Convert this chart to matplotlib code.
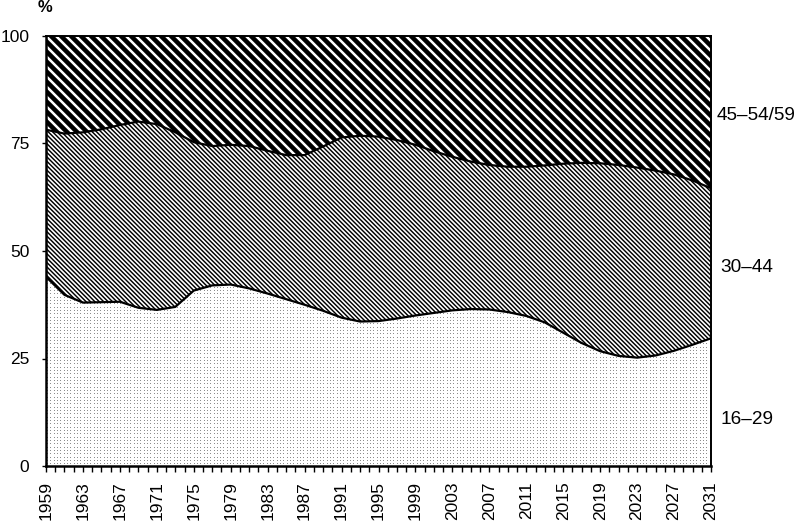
import matplotlib
matplotlib.use('Agg')
import matplotlib.pyplot as plt
import numpy as np
from matplotlib.collections import LineCollection
from matplotlib.transforms import IdentityTransform

# every second year
years = list(range(1959, 2032, 2))
share_16_29 = [44.0, 39.8, 38.0, 38.1, 38.2, 36.8, 36.3, 37.0, 40.8, 42.0,
               42.2, 41.3, 40.1, 38.8, 37.5, 36.1, 34.5, 33.6, 33.7, 34.3,
               35.0, 35.6, 36.2, 36.5, 36.4, 35.8, 34.9, 33.4, 31.0, 28.6,
               26.7, 25.6, 25.2, 25.7, 26.8, 28.2, 29.7]
share_30_44 = [34.2, 37.5, 39.6, 40.2, 41.1, 43.3, 43.2, 40.6, 34.5, 32.4,
               32.5, 33.1, 33.2, 33.5, 34.8, 38.2, 41.9, 43.2, 42.9, 41.5,
               39.7, 37.6, 35.7, 34.3, 33.6, 33.8, 34.7, 36.5, 39.3, 41.9,
               43.7, 44.4, 44.2, 43.0, 41.0, 38.2, 34.9]
share_45_plus = [21.8, 22.7, 22.4, 21.7, 20.7, 19.9, 20.5, 22.4, 24.7, 25.6,
                 25.3, 25.6, 26.7, 27.7, 27.7, 25.7, 23.6, 23.2, 23.4, 24.2,
                 25.3, 26.8, 28.1, 29.2, 30.0, 30.4, 30.4, 30.1, 29.7, 29.5,
                 29.6, 30.0, 30.6, 31.3, 32.2, 33.6, 35.4]
group_labels = ['16\u201329', '30\u201344', '45\u201354/59']
tick_years = list(range(1959, 2032, 4))

plt.rcParams['font.family'] = ['Liberation Sans', 'DejaVu Sans']

fig = plt.figure(figsize=(8, 5.21), dpi=100)
ax = fig.add_axes([46 / 800, 55 / 521, 665 / 800, 430 / 521])
ax.set_xlim(1959, 2031)
ax.set_ylim(0, 100)

x = np.array(years)
low = np.array(share_16_29)
mid = low + np.array(share_30_44)
top = mid + np.array(share_45_plus)

band_low = ax.fill_between(x, 0, low, facecolor='white', linewidth=0, zorder=1)
band_mid = ax.fill_between(x, low, mid, facecolor='white', linewidth=0, zorder=1)
band_top = ax.fill_between(x, mid, top, facecolor='black', linewidth=0, zorder=1)

# pattern fills, drawn in pixel space and clipped to each band
bx0, by0, bx1, by1 = 46, 55, 711, 485


def stripes(band, period, width, color):
    cs = np.arange(bx0 + by0 - 20, bx1 + by1 + 20, period)
    segs = [[(c - by1 - 5, by1 + 5), (c - by0 + 5, by0 - 5)] for c in cs]
    lc = LineCollection(segs, colors=color, linewidths=width,
                        transform=IdentityTransform(), zorder=1.5)
    ax.add_collection(lc, autolim=False)
    lc.set_clip_path(band.get_paths()[0], ax.transData)


stripes(band_top, 10.0, 1.8, 'white')
stripes(band_mid, 4.4, 1.05, 'black')

h, w = by1 - by0, bx1 - bx0
tex = np.ones((h, w, 3))
rows = np.round(np.arange(1, h, 3.33)).astype(int)
cols = np.round(np.arange(1, w, 3.33)).astype(int)
tex[np.ix_(rows, cols)] = 0.55
img = ax.imshow(tex, extent=(1959, 2031, 0, 100), aspect='auto',
                interpolation='nearest', zorder=1.5)
img.set_clip_path(band_low.get_paths()[0], ax.transData)

ax.plot(x, low, color='black', lw=1.6, zorder=3)
ax.plot(x, mid, color='black', lw=1.6, zorder=3)

ax.set_xticks(tick_years)
ax.set_xticks(list(range(1959, 2032)), minor=True)
ax.set_xticklabels([str(y) for y in tick_years], rotation=90)
ax.set_yticks([0, 25, 50, 75, 100])
ax.tick_params(axis='x', which='both', direction='out', length=4,
               width=1, labelsize=12.5, pad=7, color='black')
ax.tick_params(axis='y', direction='out', length=3, width=1,
               labelsize=12.5, pad=9, color='black')

for side in ['left', 'bottom']:
    ax.spines[side].set_linewidth(1.8)
for side in ['top', 'right']:
    ax.spines[side].set_linewidth(1.4)
for s in ax.spines.values():
    s.set_zorder(4)

fig.text(45.5 / 800, 1 - 7.5 / 521, '%', fontsize=12, fontweight='bold',
         ha='center', va='center')
fig.text(717 / 800, 1 - 115 / 521, group_labels[2], fontsize=13.7, va='center')
fig.text(720 / 800, 1 - 268 / 521, group_labels[1], fontsize=13.7, va='center')
fig.text(720 / 800, 1 - 420 / 521, group_labels[0], fontsize=13.7, va='center')

fig.savefig('out.png', dpi=100)
